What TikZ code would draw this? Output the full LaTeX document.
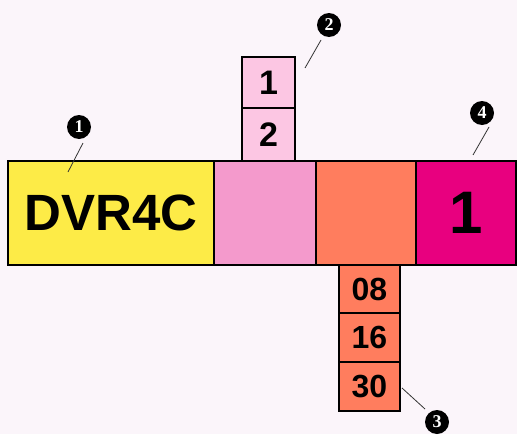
\documentclass[tikz,border=0pt]{standalone}
\usepackage{fontspec}
\setmainfont{Liberation Sans}
\newfontfamily\calloutfont{Liberation Serif}
\definecolor{bgc}{HTML}{FBF5FA}
\definecolor{yel}{HTML}{FDEB47}
\definecolor{pnk}{HTML}{F49ACC}
\definecolor{lpnk}{HTML}{FCC6E3}
\definecolor{org}{HTML}{FF7D5E}
\definecolor{mag}{HTML}{E8007F}
\begin{document}
\begin{tikzpicture}[x=1pt,y=-1pt,
  cell/.style={draw=black,line width=2pt,inner sep=0pt,outer sep=0pt,font=\bfseries},
  callout/.style={circle,fill=black,text=white,minimum size=24pt,inner sep=0pt,font=\calloutfont\bfseries\fontsize{18}{18}\selectfont},
  leader/.style={draw=black!80,line width=0.8pt}]
\fill[bgc] (0,0) rectangle (517,434);
\useasboundingbox (0,0) rectangle (517,434);
% main bar
\node[cell,fill=yel,minimum width=206pt,minimum height=104pt,font=\bfseries\fontsize{51}{51}\selectfont] (dvr) at (111,213) {DVR4C};
\node[cell,fill=pnk,minimum width=102pt,minimum height=104pt] (pk) at (265,213) {};
\node[cell,fill=org,minimum width=100pt,minimum height=104pt] (og) at (366,213) {};
\node[cell,fill=mag,minimum width=100pt,minimum height=104pt,font=\bfseries\fontsize{60}{60}\selectfont] (mg) at (466,213) {1};
% top stack
\node[cell,fill=lpnk,minimum width=53pt,minimum height=51pt,font=\bfseries\fontsize{34}{34}\selectfont] (t1) at (268.5,82.5) {1};
\node[cell,fill=lpnk,minimum width=53pt,minimum height=53pt,font=\bfseries\fontsize{34}{34}\selectfont] (t2) at (268.5,134.5) {2};
% bottom stack
\node[cell,fill=org,minimum width=61pt,minimum height=48pt,font=\bfseries\fontsize{32}{32}\selectfont] (b1) at (369.5,289) {08};
\node[cell,fill=org,minimum width=61pt,minimum height=49pt,font=\bfseries\fontsize{32}{32}\selectfont] (b2) at (369.5,337.5) {16};
\node[cell,fill=org,minimum width=61pt,minimum height=49pt,font=\bfseries\fontsize{32}{32}\selectfont] (b3) at (369.5,386.5) {30};
% callouts
\node[callout] (c1) at (79,127) {1};
\node[callout] (c2) at (329,25) {2};
\node[callout] (c3) at (437,422) {3};
\node[callout] (c4) at (482,113) {4};
\coordinate (l1a) at (83,143); \coordinate (l1b) at (68,172);
\coordinate (l2a) at (321,40); \coordinate (l2b) at (305,68);
\coordinate (l3a) at (402,388); \coordinate (l3b) at (425,409);
\coordinate (l4a) at (489,127); \coordinate (l4b) at (473,155);
\draw[leader] (l1a) -- (l1b);
\draw[leader] (l2a) -- (l2b);
\draw[leader] (l3a) -- (l3b);
\draw[leader] (l4a) -- (l4b);
\end{tikzpicture}
\end{document}
